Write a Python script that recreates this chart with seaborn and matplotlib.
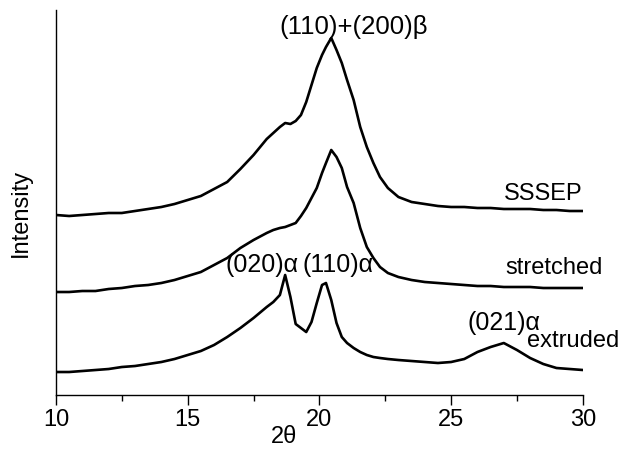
import numpy as np
import pandas as pd
import matplotlib
matplotlib.use("Agg")
import matplotlib.pyplot as plt
import seaborn as sns
from matplotlib.ticker import MultipleLocator

# 2-theta positions (degrees) shared by the three scans
two_theta = [10, 10.5, 11, 11.5, 12, 12.5, 13, 13.5, 14, 14.5, 15, 15.5, 16, 16.5, 17, 17.5, 18,
             18.25, 18.5, 18.7, 18.9, 19.1, 19.3, 19.5, 19.7, 19.9, 20.1, 20.25, 20.45, 20.65,
             20.85, 21.05, 21.3, 21.55, 21.8, 22.05, 22.3, 22.6,
             23, 23.5, 24, 24.5, 25, 25.5, 26, 26.5, 27, 27.5, 28, 28.5, 29, 29.5, 30]

# intensities (arbitrary units, curves already offset)
sssep = [180, 179, 180, 181, 182, 182, 184, 186, 188, 191, 195, 199, 206, 213, 226, 240, 256,
         262, 268, 272, 271, 274, 280, 293, 310, 327, 340, 348, 357, 345, 332, 315, 295, 268,
         248, 232, 218, 207,
         198, 193, 191, 189, 188, 188, 187, 187, 186, 186, 186, 185, 185, 184, 184]
stretched = [103, 103, 104, 104, 106, 107, 109, 110, 112, 115, 119, 123, 130, 137, 147, 155, 162,
             165, 167, 168, 170, 172, 179, 187, 197, 207, 222, 232, 245, 238, 227, 208, 192, 167,
             148, 137, 128, 122,
             118, 115, 113, 112, 111, 110, 109, 109, 108, 108, 108, 107, 107, 107, 107]
extruded = [23, 23, 24, 25, 26, 28, 29, 31, 33, 36, 40, 44, 50, 58, 67, 77, 88,
            93, 100, 120, 98, 71, 67, 63, 73, 92, 110, 112, 95, 72, 58, 52, 47, 43,
            40, 38, 37, 36,
            35, 34, 33, 32, 33, 36, 43, 48, 52, 45, 37, 31, 27, 26, 25]

sample_names = ["SSSEP", "stretched", "extruded"]

df = pd.DataFrame({
    "two_theta": two_theta * 3,
    "intensity": sssep + stretched + extruded,
    "sample": [n for n in sample_names for _ in two_theta],
})

sns.set_style("ticks")
plt.rcParams["font.family"] = ["Liberation Sans", "DejaVu Sans"]
plt.rcParams["text.color"] = "black"
plt.rcParams["axes.labelcolor"] = "black"
plt.rcParams["xtick.color"] = "black"

fig = plt.figure(figsize=(6.22, 4.5), dpi=100)
ax = fig.add_axes([0.090, 0.1222, 0.847, 0.8556])

sns.lineplot(data=df, x="two_theta", y="intensity", hue="sample",
             palette=["black"] * 3, linewidth=1.9, legend=False, ax=ax)

ax.set_xlim(10, 30)
ax.set_ylim(0, 385)
ax.set_yticks([])
ax.xaxis.set_major_locator(MultipleLocator(5))
ax.xaxis.set_minor_locator(MultipleLocator(2.5))
ax.tick_params(axis="x", which="major", length=7, width=1, labelsize=17, pad=3,
               color="black", labelcolor="black")
ax.tick_params(axis="x", which="minor", length=4, width=1, color="black")
sns.despine(ax=ax)
for side in ["left", "bottom"]:
    ax.spines[side].set_linewidth(1.0)
    ax.spines[side].set_color("black")

ax.set_xlabel("2θ", fontsize=17, color="black")
ax.xaxis.set_label_coords(0.433, -0.109)
ax.xaxis.label.set_va("center")
ax.set_ylabel("Intensity", fontsize=17, color="black")
ax.yaxis.set_label_coords(-0.066, 0.473)
ax.yaxis.label.set_va("center")

# peak and curve labels
lab = dict(color="black", clip_on=False)
ax.text(21.31, 368, "(110)+(200)β", ha="center", va="center", fontsize=18.5, **lab)
ax.text(29.97, 201, "SSSEP", ha="right", va="center", fontsize=17, **lab)
ax.text(30.76, 127, "stretched", ha="right", va="center", fontsize=17, **lab)
ax.text(31.4, 54, "extruded", ha="right", va="center", fontsize=17, **lab)
ax.text(25.64, 72, "(021)α", ha="left", va="center", fontsize=18, **lab)
ax.text(16.45, 130, "(020)α", ha="left", va="center", fontsize=18, **lab)
ax.text(19.35, 130, "(110)α", ha="left", va="center", fontsize=18, **lab)

fig.savefig("out.png", dpi=100)
